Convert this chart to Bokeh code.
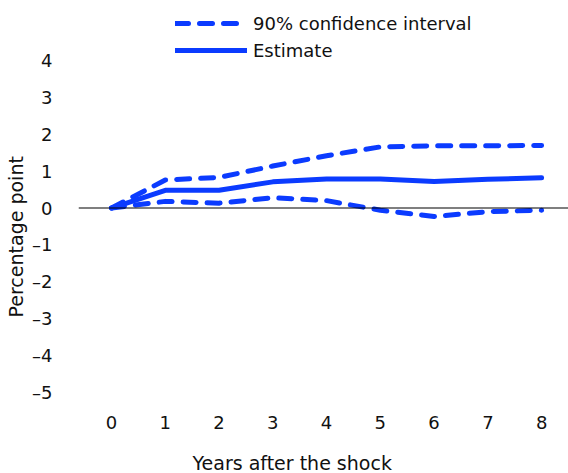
from bokeh.plotting import figure
from bokeh.models import Span, Legend, LegendItem, FixedTicker, Title
from bokeh.embed import file_html
from bokeh.resources import INLINE

# Impulse response: years after the shock vs. percentage point effect
years = [0, 1, 2, 3, 4, 5, 6, 7, 8]
estimate = [0.0, 0.48, 0.48, 0.71, 0.79, 0.79, 0.72, 0.78, 0.82]
upper_90 = [0.0, 0.76, 0.83, 1.14, 1.42, 1.66, 1.69, 1.69, 1.70]
lower_90 = [0.0, 0.18, 0.13, 0.28, 0.20, -0.06, -0.23, -0.10, -0.06]
y_ticks = [-5, -4, -3, -2, -1, 0, 1, 2, 3, 4]

FONT = "DejaVu Sans"
BLUE = "#0b3bff"
TXT = "#111111"

p = figure(
    width=568, height=473,
    x_range=(-0.614, 8.5), y_range=(-5.474, 5.637),
    output_backend="svg", toolbar_location=None,
    min_border_left=78, min_border_right=0, min_border_top=0, min_border_bottom=0,
)
p.outline_line_color = None
p.grid.visible = False
p.background_fill_color = "white"
p.border_fill_color = "white"

# Zero reference line
p.add_layout(Span(location=0, dimension="width", line_color="black", line_width=1.2))

upper_r = p.line(years, upper_90, line_color=BLUE, line_width=5, line_dash="13 11",
                 line_cap="round", line_join="round")
p.line(years, lower_90, line_color=BLUE, line_width=5, line_dash="13 11",
       line_cap="round", line_join="round")
est_r = p.line(years, estimate, line_color=BLUE, line_width=5,
               line_cap="round", line_join="round")

legend = Legend(
    items=[LegendItem(label="90% confidence interval", renderers=[upper_r]),
           LegendItem(label="Estimate", renderers=[est_r])],
    location=(97, 348),
    background_fill_alpha=0, border_line_color=None,
    label_text_font=FONT, label_text_font_size="18px", label_text_color=TXT,
    glyph_width=72, glyph_height=22, spacing=5, padding=0, margin=0,
    label_standoff=6,
)
p.add_layout(legend)

# X axis
p.xaxis.ticker = FixedTicker(ticks=years)
p.xaxis.axis_line_color = None
p.xaxis.major_tick_line_color = None
p.xaxis.minor_tick_line_color = None
p.xaxis.major_label_text_font = FONT
p.xaxis.major_label_text_font_size = "18px"
p.xaxis.major_label_text_color = TXT
p.xaxis.major_label_standoff = 0

# Y axis
p.yaxis.ticker = FixedTicker(ticks=y_ticks)
p.yaxis.major_label_overrides = {t: (str(t).replace("-", "\u2013")) for t in y_ticks}
p.yaxis.axis_line_color = None
p.yaxis.major_tick_line_color = None
p.yaxis.minor_tick_line_color = None
p.yaxis.major_label_text_font = FONT
p.yaxis.major_label_text_font_size = "18px"
p.yaxis.major_label_text_color = TXT
p.yaxis.major_label_standoff = 20

# Axis titles as side panels; a thin blank panel spaces the x title off the tick labels
p.add_layout(Title(text=" ", text_font_size="1px", standoff=15), "below")
p.add_layout(Title(text="Years after the shock", align="left", offset=114,
                   text_font=FONT, text_font_size="19px", text_font_style="normal",
                   text_color=TXT, standoff=0), "below")
p.add_layout(Title(text="Percentage point", align="left", offset=92,
                   text_font=FONT, text_font_size="19px", text_font_style="normal",
                   text_color=TXT, standoff=5), "left")

open("out.html", "w").write(file_html(p, INLINE))
